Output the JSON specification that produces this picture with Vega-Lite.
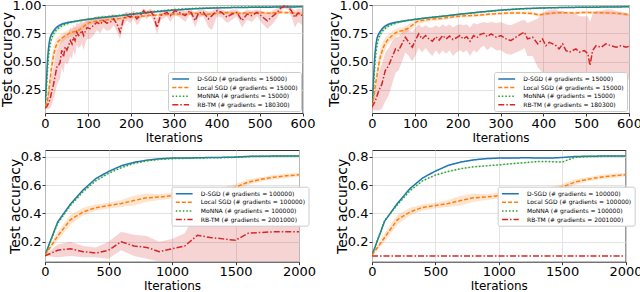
{
"$schema": "https://vega.github.io/schema/vega-lite/v6.json",
"padding": {"left": 0, "top": -2, "right": 0, "bottom": 0},
"background": "white",
"config": {
  "font": "DejaVu Sans",
  "view": {"stroke": "#333333", "strokeWidth": 1},
  "axis": {"domain": false, "grid": true, "gridColor": "#dcdcdc", "gridWidth": 0.8, "tickColor": "#333333", "tickSize": 3, "labelFont": "DejaVu Sans", "labelFontSize": 13, "labelColor": "black", "titleFont": "DejaVu Sans", "titleFontSize": 13, "titleFontWeight": "normal", "titleColor": "black", "labelPadding": 1, "labelFlush": false, "labelOverlap": false, "labelBound": false},
  "axisY": {"titlePadding": -2.5, "titleFontSize": 14},
  "axisX": {"titlePadding": 2, "titleFontSize": 12},
  "legend": {"symbolType": "M-2.8,0H2.8", "symbolSize": 36, "symbolOffset": 5.7, "labelOffset": 12.6, "labelFontSize": 6, "labelFont": "DejaVu Sans", "labelColor": "black", "rowPadding": 1.6, "padding": 3, "strokeColor": "#cccccc", "fillColor": "white", "cornerRadius": 2, "symbolStrokeWidth": 1.5, "labelLimit": 300}
},
"datasets": {
"a": [
{"m":"D-SGD","x":0,"y":0.10,"lo":0.09,"hi":0.11},
{"m":"D-SGD","x":2,"y":0.22,"lo":0.19,"hi":0.25},
{"m":"D-SGD","x":4,"y":0.38,"lo":0.34,"hi":0.42},
{"m":"D-SGD","x":6,"y":0.52,"lo":0.48,"hi":0.56},
{"m":"D-SGD","x":8,"y":0.61,"lo":0.58,"hi":0.64},
{"m":"D-SGD","x":10,"y":0.67,"lo":0.64,"hi":0.70},
{"m":"D-SGD","x":12,"y":0.71,"lo":0.69,"hi":0.73},
{"m":"D-SGD","x":15,"y":0.74,"lo":0.72,"hi":0.76},
{"m":"D-SGD","x":20,"y":0.77,"lo":0.755,"hi":0.785},
{"m":"D-SGD","x":25,"y":0.795,"lo":0.78,"hi":0.81},
{"m":"D-SGD","x":30,"y":0.812,"lo":0.80,"hi":0.824},
{"m":"D-SGD","x":40,"y":0.832,"lo":0.822,"hi":0.842},
{"m":"D-SGD","x":50,"y":0.843,"lo":0.835,"hi":0.851},
{"m":"D-SGD","x":60,"y":0.85,"lo":0.843,"hi":0.857},
{"m":"D-SGD","x":80,"y":0.862,"lo":0.856,"hi":0.868},
{"m":"D-SGD","x":100,"y":0.873,"lo":0.868,"hi":0.878},
{"m":"D-SGD","x":125,"y":0.885,"lo":0.88,"hi":0.89},
{"m":"D-SGD","x":150,"y":0.895,"lo":0.89,"hi":0.9},
{"m":"D-SGD","x":175,"y":0.905,"lo":0.9,"hi":0.91},
{"m":"D-SGD","x":200,"y":0.917,"lo":0.912,"hi":0.922},
{"m":"D-SGD","x":250,"y":0.937,"lo":0.932,"hi":0.942},
{"m":"D-SGD","x":300,"y":0.955,"lo":0.951,"hi":0.959},
{"m":"D-SGD","x":350,"y":0.967,"lo":0.963,"hi":0.971},
{"m":"D-SGD","x":400,"y":0.974,"lo":0.971,"hi":0.977},
{"m":"D-SGD","x":450,"y":0.978,"lo":0.975,"hi":0.981},
{"m":"D-SGD","x":500,"y":0.98,"lo":0.977,"hi":0.983},
{"m":"D-SGD","x":550,"y":0.982,"lo":0.979,"hi":0.985},
{"m":"D-SGD","x":600,"y":0.984,"lo":0.981,"hi":0.987},
{"m":"MoNNA","x":0,"y":0.10,"lo":0.09,"hi":0.11},
{"m":"MoNNA","x":2,"y":0.17,"lo":0.14,"hi":0.2},
{"m":"MoNNA","x":4,"y":0.30,"lo":0.26,"hi":0.34},
{"m":"MoNNA","x":6,"y":0.43,"lo":0.39,"hi":0.47},
{"m":"MoNNA","x":8,"y":0.53,"lo":0.49,"hi":0.57},
{"m":"MoNNA","x":10,"y":0.60,"lo":0.56,"hi":0.64},
{"m":"MoNNA","x":12,"y":0.65,"lo":0.62,"hi":0.68},
{"m":"MoNNA","x":15,"y":0.70,"lo":0.67,"hi":0.73},
{"m":"MoNNA","x":20,"y":0.745,"lo":0.72,"hi":0.77},
{"m":"MoNNA","x":25,"y":0.772,"lo":0.75,"hi":0.794},
{"m":"MoNNA","x":30,"y":0.792,"lo":0.775,"hi":0.81},
{"m":"MoNNA","x":40,"y":0.818,"lo":0.805,"hi":0.831},
{"m":"MoNNA","x":50,"y":0.833,"lo":0.822,"hi":0.844},
{"m":"MoNNA","x":60,"y":0.845,"lo":0.836,"hi":0.854},
{"m":"MoNNA","x":80,"y":0.862,"lo":0.855,"hi":0.869},
{"m":"MoNNA","x":100,"y":0.875,"lo":0.869,"hi":0.881},
{"m":"MoNNA","x":125,"y":0.89,"lo":0.884,"hi":0.896},
{"m":"MoNNA","x":150,"y":0.9,"lo":0.894,"hi":0.906},
{"m":"MoNNA","x":175,"y":0.91,"lo":0.905,"hi":0.915},
{"m":"MoNNA","x":200,"y":0.922,"lo":0.917,"hi":0.927},
{"m":"MoNNA","x":250,"y":0.942,"lo":0.937,"hi":0.947},
{"m":"MoNNA","x":300,"y":0.96,"lo":0.956,"hi":0.964},
{"m":"MoNNA","x":350,"y":0.971,"lo":0.967,"hi":0.975},
{"m":"MoNNA","x":400,"y":0.977,"lo":0.974,"hi":0.98},
{"m":"MoNNA","x":450,"y":0.981,"lo":0.978,"hi":0.984},
{"m":"MoNNA","x":500,"y":0.984,"lo":0.981,"hi":0.987},
{"m":"MoNNA","x":550,"y":0.986,"lo":0.983,"hi":0.989},
{"m":"MoNNA","x":600,"y":0.988,"lo":0.985,"hi":0.991},
{"m":"Local SGD","x":0,"y":0.10,"lo":0.09,"hi":0.11},
{"m":"Local SGD","x":5,"y":0.14,"lo":0.11,"hi":0.18},
{"m":"Local SGD","x":10,"y":0.28,"lo":0.22,"hi":0.34},
{"m":"Local SGD","x":15,"y":0.44,"lo":0.37,"hi":0.51},
{"m":"Local SGD","x":20,"y":0.56,"lo":0.49,"hi":0.63},
{"m":"Local SGD","x":25,"y":0.63,"lo":0.57,"hi":0.69},
{"m":"Local SGD","x":30,"y":0.675,"lo":0.62,"hi":0.72},
{"m":"Local SGD","x":40,"y":0.71,"lo":0.67,"hi":0.75},
{"m":"Local SGD","x":50,"y":0.735,"lo":0.7,"hi":0.77},
{"m":"Local SGD","x":60,"y":0.755,"lo":0.72,"hi":0.79},
{"m":"Local SGD","x":70,"y":0.765,"lo":0.735,"hi":0.8},
{"m":"Local SGD","x":80,"y":0.78,"lo":0.75,"hi":0.81},
{"m":"Local SGD","x":90,"y":0.81,"lo":0.78,"hi":0.84},
{"m":"Local SGD","x":100,"y":0.84,"lo":0.815,"hi":0.86},
{"m":"Local SGD","x":110,"y":0.85,"lo":0.83,"hi":0.87},
{"m":"Local SGD","x":125,"y":0.86,"lo":0.843,"hi":0.877},
{"m":"Local SGD","x":150,"y":0.872,"lo":0.857,"hi":0.887},
{"m":"Local SGD","x":175,"y":0.882,"lo":0.868,"hi":0.896},
{"m":"Local SGD","x":200,"y":0.895,"lo":0.882,"hi":0.908},
{"m":"Local SGD","x":225,"y":0.9,"lo":0.888,"hi":0.912},
{"m":"Local SGD","x":250,"y":0.91,"lo":0.898,"hi":0.922},
{"m":"Local SGD","x":275,"y":0.915,"lo":0.903,"hi":0.927},
{"m":"Local SGD","x":300,"y":0.92,"lo":0.908,"hi":0.932},
{"m":"Local SGD","x":325,"y":0.918,"lo":0.906,"hi":0.93},
{"m":"Local SGD","x":350,"y":0.928,"lo":0.916,"hi":0.94},
{"m":"Local SGD","x":375,"y":0.915,"lo":0.9,"hi":0.93},
{"m":"Local SGD","x":400,"y":0.928,"lo":0.916,"hi":0.94},
{"m":"Local SGD","x":425,"y":0.933,"lo":0.922,"hi":0.944},
{"m":"Local SGD","x":450,"y":0.925,"lo":0.913,"hi":0.937},
{"m":"Local SGD","x":475,"y":0.93,"lo":0.919,"hi":0.941},
{"m":"Local SGD","x":500,"y":0.933,"lo":0.922,"hi":0.944},
{"m":"Local SGD","x":525,"y":0.928,"lo":0.917,"hi":0.939},
{"m":"Local SGD","x":550,"y":0.935,"lo":0.924,"hi":0.946},
{"m":"Local SGD","x":575,"y":0.93,"lo":0.919,"hi":0.941},
{"m":"Local SGD","x":600,"y":0.92,"lo":0.905,"hi":0.935},
{"m":"RB-TM","x":0,"y":0.09,"lo":0.08,"hi":0.1},
{"m":"RB-TM","x":4,"y":0.10,"lo":0.08,"hi":0.14},
{"m":"RB-TM","x":8,"y":0.13,"lo":0.08,"hi":0.22},
{"m":"RB-TM","x":12,"y":0.17,"lo":0.09,"hi":0.3},
{"m":"RB-TM","x":16,"y":0.24,"lo":0.12,"hi":0.38},
{"m":"RB-TM","x":20,"y":0.30,"lo":0.17,"hi":0.45},
{"m":"RB-TM","x":24,"y":0.38,"lo":0.22,"hi":0.55},
{"m":"RB-TM","x":28,"y":0.46,"lo":0.3,"hi":0.6},
{"m":"RB-TM","x":32,"y":0.47,"lo":0.33,"hi":0.63},
{"m":"RB-TM","x":35,"y":0.49,"lo":0.35,"hi":0.65},
{"m":"RB-TM","x":39,"y":0.60,"lo":0.45,"hi":0.72},
{"m":"RB-TM","x":43,"y":0.54,"lo":0.4,"hi":0.7},
{"m":"RB-TM","x":47,"y":0.63,"lo":0.5,"hi":0.75},
{"m":"RB-TM","x":51,"y":0.60,"lo":0.47,"hi":0.74},
{"m":"RB-TM","x":55,"y":0.64,"lo":0.5,"hi":0.76},
{"m":"RB-TM","x":59,"y":0.685,"lo":0.55,"hi":0.8},
{"m":"RB-TM","x":63,"y":0.655,"lo":0.52,"hi":0.78},
{"m":"RB-TM","x":66,"y":0.715,"lo":0.6,"hi":0.82},
{"m":"RB-TM","x":70,"y":0.685,"lo":0.55,"hi":0.8},
{"m":"RB-TM","x":74,"y":0.76,"lo":0.65,"hi":0.85},
{"m":"RB-TM","x":78,"y":0.73,"lo":0.62,"hi":0.83},
{"m":"RB-TM","x":82,"y":0.745,"lo":0.63,"hi":0.85},
{"m":"RB-TM","x":86,"y":0.775,"lo":0.66,"hi":0.87},
{"m":"RB-TM","x":90,"y":0.73,"lo":0.6,"hi":0.84},
{"m":"RB-TM","x":94,"y":0.77,"lo":0.66,"hi":0.86},
{"m":"RB-TM","x":98,"y":0.80,"lo":0.7,"hi":0.88},
{"m":"RB-TM","x":105,"y":0.79,"lo":0.7,"hi":0.87},
{"m":"RB-TM","x":113,"y":0.82,"lo":0.73,"hi":0.89},
{"m":"RB-TM","x":121,"y":0.847,"lo":0.78,"hi":0.9},
{"m":"RB-TM","x":129,"y":0.83,"lo":0.75,"hi":0.9},
{"m":"RB-TM","x":136,"y":0.862,"lo":0.8,"hi":0.91},
{"m":"RB-TM","x":144,"y":0.84,"lo":0.77,"hi":0.9},
{"m":"RB-TM","x":152,"y":0.847,"lo":0.78,"hi":0.91},
{"m":"RB-TM","x":160,"y":0.877,"lo":0.82,"hi":0.92},
{"m":"RB-TM","x":168,"y":0.83,"lo":0.76,"hi":0.9},
{"m":"RB-TM","x":175,"y":0.76,"lo":0.7,"hi":0.87},
{"m":"RB-TM","x":183,"y":0.877,"lo":0.82,"hi":0.93},
{"m":"RB-TM","x":191,"y":0.906,"lo":0.86,"hi":0.94},
{"m":"RB-TM","x":199,"y":0.892,"lo":0.84,"hi":0.93},
{"m":"RB-TM","x":206,"y":0.92,"lo":0.88,"hi":0.95},
{"m":"RB-TM","x":214,"y":0.877,"lo":0.82,"hi":0.93},
{"m":"RB-TM","x":222,"y":0.906,"lo":0.86,"hi":0.94},
{"m":"RB-TM","x":230,"y":0.95,"lo":0.92,"hi":0.97},
{"m":"RB-TM","x":237,"y":0.92,"lo":0.87,"hi":0.95},
{"m":"RB-TM","x":245,"y":0.95,"lo":0.92,"hi":0.97},
{"m":"RB-TM","x":253,"y":0.906,"lo":0.85,"hi":0.95},
{"m":"RB-TM","x":261,"y":0.80,"lo":0.74,"hi":0.88},
{"m":"RB-TM","x":269,"y":0.906,"lo":0.86,"hi":0.95},
{"m":"RB-TM","x":276,"y":0.92,"lo":0.88,"hi":0.95},
{"m":"RB-TM","x":284,"y":0.935,"lo":0.9,"hi":0.96},
{"m":"RB-TM","x":292,"y":0.906,"lo":0.85,"hi":0.95},
{"m":"RB-TM","x":303,"y":0.95,"lo":0.91,"hi":0.97},
{"m":"RB-TM","x":315,"y":0.93,"lo":0.89,"hi":0.96},
{"m":"RB-TM","x":327,"y":0.906,"lo":0.85,"hi":0.95},
{"m":"RB-TM","x":338,"y":0.95,"lo":0.92,"hi":0.97},
{"m":"RB-TM","x":350,"y":0.862,"lo":0.8,"hi":0.93},
{"m":"RB-TM","x":358,"y":0.93,"lo":0.89,"hi":0.96},
{"m":"RB-TM","x":369,"y":0.935,"lo":0.9,"hi":0.96},
{"m":"RB-TM","x":381,"y":0.877,"lo":0.8,"hi":0.94},
{"m":"RB-TM","x":389,"y":0.906,"lo":0.78,"hi":0.95},
{"m":"RB-TM","x":401,"y":0.95,"lo":0.9,"hi":0.97},
{"m":"RB-TM","x":412,"y":0.935,"lo":0.89,"hi":0.96},
{"m":"RB-TM","x":424,"y":0.892,"lo":0.84,"hi":0.94},
{"m":"RB-TM","x":436,"y":0.92,"lo":0.87,"hi":0.96},
{"m":"RB-TM","x":447,"y":0.935,"lo":0.9,"hi":0.96},
{"m":"RB-TM","x":459,"y":0.862,"lo":0.8,"hi":0.93},
{"m":"RB-TM","x":471,"y":0.92,"lo":0.87,"hi":0.96},
{"m":"RB-TM","x":482,"y":0.906,"lo":0.85,"hi":0.95},
{"m":"RB-TM","x":494,"y":0.935,"lo":0.9,"hi":0.96},
{"m":"RB-TM","x":505,"y":0.9,"lo":0.84,"hi":0.95},
{"m":"RB-TM","x":518,"y":0.86,"lo":0.79,"hi":0.92},
{"m":"RB-TM","x":530,"y":0.9,"lo":0.83,"hi":0.95},
{"m":"RB-TM","x":540,"y":0.93,"lo":0.88,"hi":0.97},
{"m":"RB-TM","x":550,"y":0.975,"lo":0.95,"hi":0.99},
{"m":"RB-TM","x":558,"y":0.99,"lo":0.97,"hi":1.0},
{"m":"RB-TM","x":566,"y":0.985,"lo":0.96,"hi":1.0},
{"m":"RB-TM","x":574,"y":0.95,"lo":0.9,"hi":0.98},
{"m":"RB-TM","x":582,"y":0.89,"lo":0.8,"hi":0.95},
{"m":"RB-TM","x":590,"y":0.93,"lo":0.85,"hi":0.97},
{"m":"RB-TM","x":600,"y":0.905,"lo":0.82,"hi":0.96}
],
"b": [
{"m":"D-SGD","x":0,"y":0.10,"lo":0.09,"hi":0.11},
{"m":"D-SGD","x":2,"y":0.22,"lo":0.19,"hi":0.25},
{"m":"D-SGD","x":4,"y":0.38,"lo":0.34,"hi":0.42},
{"m":"D-SGD","x":6,"y":0.52,"lo":0.48,"hi":0.56},
{"m":"D-SGD","x":8,"y":0.61,"lo":0.58,"hi":0.64},
{"m":"D-SGD","x":10,"y":0.67,"lo":0.64,"hi":0.70},
{"m":"D-SGD","x":12,"y":0.71,"lo":0.69,"hi":0.73},
{"m":"D-SGD","x":15,"y":0.74,"lo":0.72,"hi":0.76},
{"m":"D-SGD","x":20,"y":0.77,"lo":0.755,"hi":0.785},
{"m":"D-SGD","x":25,"y":0.795,"lo":0.78,"hi":0.81},
{"m":"D-SGD","x":30,"y":0.812,"lo":0.80,"hi":0.824},
{"m":"D-SGD","x":40,"y":0.832,"lo":0.822,"hi":0.842},
{"m":"D-SGD","x":50,"y":0.843,"lo":0.835,"hi":0.851},
{"m":"D-SGD","x":60,"y":0.85,"lo":0.843,"hi":0.857},
{"m":"D-SGD","x":80,"y":0.862,"lo":0.856,"hi":0.868},
{"m":"D-SGD","x":100,"y":0.873,"lo":0.868,"hi":0.878},
{"m":"D-SGD","x":125,"y":0.885,"lo":0.88,"hi":0.89},
{"m":"D-SGD","x":150,"y":0.895,"lo":0.89,"hi":0.9},
{"m":"D-SGD","x":175,"y":0.905,"lo":0.9,"hi":0.91},
{"m":"D-SGD","x":200,"y":0.917,"lo":0.912,"hi":0.922},
{"m":"D-SGD","x":250,"y":0.937,"lo":0.932,"hi":0.942},
{"m":"D-SGD","x":300,"y":0.955,"lo":0.951,"hi":0.959},
{"m":"D-SGD","x":350,"y":0.967,"lo":0.963,"hi":0.971},
{"m":"D-SGD","x":400,"y":0.974,"lo":0.971,"hi":0.977},
{"m":"D-SGD","x":450,"y":0.978,"lo":0.975,"hi":0.981},
{"m":"D-SGD","x":500,"y":0.98,"lo":0.977,"hi":0.983},
{"m":"D-SGD","x":550,"y":0.982,"lo":0.979,"hi":0.985},
{"m":"D-SGD","x":600,"y":0.984,"lo":0.981,"hi":0.987},
{"m":"MoNNA","x":0,"y":0.10,"lo":0.09,"hi":0.11},
{"m":"MoNNA","x":2,"y":0.17,"lo":0.14,"hi":0.2},
{"m":"MoNNA","x":4,"y":0.30,"lo":0.26,"hi":0.34},
{"m":"MoNNA","x":6,"y":0.43,"lo":0.39,"hi":0.47},
{"m":"MoNNA","x":8,"y":0.53,"lo":0.49,"hi":0.57},
{"m":"MoNNA","x":10,"y":0.60,"lo":0.56,"hi":0.64},
{"m":"MoNNA","x":12,"y":0.65,"lo":0.62,"hi":0.68},
{"m":"MoNNA","x":15,"y":0.70,"lo":0.67,"hi":0.73},
{"m":"MoNNA","x":20,"y":0.745,"lo":0.72,"hi":0.77},
{"m":"MoNNA","x":25,"y":0.772,"lo":0.75,"hi":0.794},
{"m":"MoNNA","x":30,"y":0.792,"lo":0.775,"hi":0.81},
{"m":"MoNNA","x":40,"y":0.818,"lo":0.805,"hi":0.831},
{"m":"MoNNA","x":50,"y":0.833,"lo":0.822,"hi":0.844},
{"m":"MoNNA","x":60,"y":0.845,"lo":0.836,"hi":0.854},
{"m":"MoNNA","x":80,"y":0.862,"lo":0.855,"hi":0.869},
{"m":"MoNNA","x":100,"y":0.872,"lo":0.866,"hi":0.878},
{"m":"MoNNA","x":125,"y":0.885,"lo":0.879,"hi":0.891},
{"m":"MoNNA","x":150,"y":0.895,"lo":0.889,"hi":0.901},
{"m":"MoNNA","x":175,"y":0.905,"lo":0.9,"hi":0.91},
{"m":"MoNNA","x":200,"y":0.915,"lo":0.91,"hi":0.92},
{"m":"MoNNA","x":250,"y":0.935,"lo":0.93,"hi":0.94},
{"m":"MoNNA","x":300,"y":0.953,"lo":0.949,"hi":0.957},
{"m":"MoNNA","x":350,"y":0.966,"lo":0.962,"hi":0.97},
{"m":"MoNNA","x":400,"y":0.974,"lo":0.971,"hi":0.977},
{"m":"MoNNA","x":450,"y":0.979,"lo":0.976,"hi":0.982},
{"m":"MoNNA","x":500,"y":0.982,"lo":0.979,"hi":0.985},
{"m":"MoNNA","x":550,"y":0.985,"lo":0.982,"hi":0.988},
{"m":"MoNNA","x":600,"y":0.987,"lo":0.984,"hi":0.99},
{"m":"Local SGD","x":0,"y":0.10,"lo":0.09,"hi":0.11},
{"m":"Local SGD","x":4,"y":0.18,"lo":0.13,"hi":0.23},
{"m":"Local SGD","x":8,"y":0.30,"lo":0.23,"hi":0.37},
{"m":"Local SGD","x":12,"y":0.38,"lo":0.31,"hi":0.45},
{"m":"Local SGD","x":16,"y":0.48,"lo":0.41,"hi":0.55},
{"m":"Local SGD","x":20,"y":0.55,"lo":0.48,"hi":0.62},
{"m":"Local SGD","x":27,"y":0.63,"lo":0.57,"hi":0.69},
{"m":"Local SGD","x":35,"y":0.685,"lo":0.64,"hi":0.73},
{"m":"Local SGD","x":43,"y":0.715,"lo":0.675,"hi":0.755},
{"m":"Local SGD","x":50,"y":0.74,"lo":0.7,"hi":0.775},
{"m":"Local SGD","x":58,"y":0.76,"lo":0.725,"hi":0.79},
{"m":"Local SGD","x":66,"y":0.77,"lo":0.74,"hi":0.8},
{"m":"Local SGD","x":74,"y":0.775,"lo":0.745,"hi":0.805},
{"m":"Local SGD","x":82,"y":0.79,"lo":0.76,"hi":0.82},
{"m":"Local SGD","x":90,"y":0.81,"lo":0.78,"hi":0.84},
{"m":"Local SGD","x":97,"y":0.83,"lo":0.8,"hi":0.855},
{"m":"Local SGD","x":105,"y":0.855,"lo":0.83,"hi":0.875},
{"m":"Local SGD","x":120,"y":0.865,"lo":0.845,"hi":0.882},
{"m":"Local SGD","x":140,"y":0.875,"lo":0.858,"hi":0.89},
{"m":"Local SGD","x":160,"y":0.88,"lo":0.865,"hi":0.895},
{"m":"Local SGD","x":180,"y":0.89,"lo":0.876,"hi":0.904},
{"m":"Local SGD","x":200,"y":0.9,"lo":0.887,"hi":0.913},
{"m":"Local SGD","x":225,"y":0.905,"lo":0.892,"hi":0.918},
{"m":"Local SGD","x":250,"y":0.91,"lo":0.898,"hi":0.922},
{"m":"Local SGD","x":275,"y":0.92,"lo":0.908,"hi":0.932},
{"m":"Local SGD","x":300,"y":0.925,"lo":0.913,"hi":0.937},
{"m":"Local SGD","x":325,"y":0.93,"lo":0.918,"hi":0.942},
{"m":"Local SGD","x":350,"y":0.93,"lo":0.918,"hi":0.942},
{"m":"Local SGD","x":375,"y":0.925,"lo":0.912,"hi":0.938},
{"m":"Local SGD","x":390,"y":0.91,"lo":0.895,"hi":0.925},
{"m":"Local SGD","x":400,"y":0.92,"lo":0.907,"hi":0.933},
{"m":"Local SGD","x":425,"y":0.93,"lo":0.918,"hi":0.942},
{"m":"Local SGD","x":450,"y":0.932,"lo":0.92,"hi":0.944},
{"m":"Local SGD","x":475,"y":0.93,"lo":0.918,"hi":0.942},
{"m":"Local SGD","x":500,"y":0.935,"lo":0.923,"hi":0.947},
{"m":"Local SGD","x":525,"y":0.932,"lo":0.92,"hi":0.944},
{"m":"Local SGD","x":550,"y":0.93,"lo":0.918,"hi":0.942},
{"m":"Local SGD","x":575,"y":0.925,"lo":0.913,"hi":0.937},
{"m":"Local SGD","x":600,"y":0.915,"lo":0.9,"hi":0.93},
{"m":"RB-TM","x":0,"y":0.096,"lo":0.07,"hi":0.12},
{"m":"RB-TM","x":8,"y":0.155,"lo":0.07,"hi":0.25},
{"m":"RB-TM","x":16,"y":0.243,"lo":0.07,"hi":0.4},
{"m":"RB-TM","x":23,"y":0.30,"lo":0.08,"hi":0.48},
{"m":"RB-TM","x":31,"y":0.42,"lo":0.15,"hi":0.58},
{"m":"RB-TM","x":39,"y":0.465,"lo":0.2,"hi":0.62},
{"m":"RB-TM","x":47,"y":0.54,"lo":0.3,"hi":0.68},
{"m":"RB-TM","x":55,"y":0.612,"lo":0.4,"hi":0.72},
{"m":"RB-TM","x":62,"y":0.597,"lo":0.42,"hi":0.72},
{"m":"RB-TM","x":70,"y":0.656,"lo":0.5,"hi":0.76},
{"m":"RB-TM","x":78,"y":0.715,"lo":0.58,"hi":0.8},
{"m":"RB-TM","x":86,"y":0.67,"lo":0.55,"hi":0.78},
{"m":"RB-TM","x":94,"y":0.627,"lo":0.5,"hi":0.76},
{"m":"RB-TM","x":101,"y":0.685,"lo":0.55,"hi":0.8},
{"m":"RB-TM","x":109,"y":0.745,"lo":0.62,"hi":0.83},
{"m":"RB-TM","x":117,"y":0.70,"lo":0.58,"hi":0.8},
{"m":"RB-TM","x":125,"y":0.73,"lo":0.62,"hi":0.82},
{"m":"RB-TM","x":133,"y":0.70,"lo":0.58,"hi":0.8},
{"m":"RB-TM","x":141,"y":0.68,"lo":0.55,"hi":0.8},
{"m":"RB-TM","x":149,"y":0.72,"lo":0.6,"hi":0.82},
{"m":"RB-TM","x":157,"y":0.69,"lo":0.56,"hi":0.8},
{"m":"RB-TM","x":165,"y":0.73,"lo":0.6,"hi":0.83},
{"m":"RB-TM","x":173,"y":0.70,"lo":0.57,"hi":0.81},
{"m":"RB-TM","x":181,"y":0.725,"lo":0.6,"hi":0.83},
{"m":"RB-TM","x":189,"y":0.695,"lo":0.55,"hi":0.8},
{"m":"RB-TM","x":197,"y":0.71,"lo":0.58,"hi":0.82},
{"m":"RB-TM","x":205,"y":0.73,"lo":0.6,"hi":0.83},
{"m":"RB-TM","x":213,"y":0.70,"lo":0.58,"hi":0.82},
{"m":"RB-TM","x":221,"y":0.72,"lo":0.6,"hi":0.83},
{"m":"RB-TM","x":229,"y":0.68,"lo":0.55,"hi":0.8},
{"m":"RB-TM","x":237,"y":0.73,"lo":0.6,"hi":0.84},
{"m":"RB-TM","x":245,"y":0.71,"lo":0.58,"hi":0.83},
{"m":"RB-TM","x":253,"y":0.74,"lo":0.62,"hi":0.84},
{"m":"RB-TM","x":261,"y":0.75,"lo":0.64,"hi":0.85},
{"m":"RB-TM","x":269,"y":0.72,"lo":0.6,"hi":0.84},
{"m":"RB-TM","x":278,"y":0.745,"lo":0.63,"hi":0.85},
{"m":"RB-TM","x":290,"y":0.715,"lo":0.6,"hi":0.84},
{"m":"RB-TM","x":301,"y":0.73,"lo":0.6,"hi":0.85},
{"m":"RB-TM","x":313,"y":0.70,"lo":0.57,"hi":0.83},
{"m":"RB-TM","x":324,"y":0.685,"lo":0.56,"hi":0.82},
{"m":"RB-TM","x":336,"y":0.715,"lo":0.58,"hi":0.84},
{"m":"RB-TM","x":348,"y":0.745,"lo":0.6,"hi":0.86},
{"m":"RB-TM","x":356,"y":0.76,"lo":0.62,"hi":0.87},
{"m":"RB-TM","x":363,"y":0.70,"lo":0.55,"hi":0.84},
{"m":"RB-TM","x":375,"y":0.715,"lo":0.55,"hi":0.86},
{"m":"RB-TM","x":387,"y":0.656,"lo":0.45,"hi":0.88},
{"m":"RB-TM","x":398,"y":0.70,"lo":0.4,"hi":0.92},
{"m":"RB-TM","x":406,"y":0.64,"lo":0.3,"hi":0.95},
{"m":"RB-TM","x":414,"y":0.67,"lo":0.25,"hi":0.96},
{"m":"RB-TM","x":422,"y":0.656,"lo":0.15,"hi":0.96},
{"m":"RB-TM","x":430,"y":0.64,"lo":0.08,"hi":0.96},
{"m":"RB-TM","x":437,"y":0.612,"lo":0.06,"hi":0.95},
{"m":"RB-TM","x":445,"y":0.656,"lo":0.06,"hi":0.95},
{"m":"RB-TM","x":453,"y":0.597,"lo":0.06,"hi":0.93},
{"m":"RB-TM","x":461,"y":0.583,"lo":0.06,"hi":0.92},
{"m":"RB-TM","x":468,"y":0.597,"lo":0.06,"hi":0.93},
{"m":"RB-TM","x":476,"y":0.612,"lo":0.06,"hi":0.92},
{"m":"RB-TM","x":484,"y":0.583,"lo":0.06,"hi":0.9},
{"m":"RB-TM","x":496,"y":0.597,"lo":0.06,"hi":0.9},
{"m":"RB-TM","x":504,"y":0.57,"lo":0.06,"hi":0.9},
{"m":"RB-TM","x":509,"y":0.465,"lo":0.06,"hi":0.85},
{"m":"RB-TM","x":515,"y":0.597,"lo":0.06,"hi":0.92},
{"m":"RB-TM","x":523,"y":0.64,"lo":0.08,"hi":0.95},
{"m":"RB-TM","x":535,"y":0.627,"lo":0.1,"hi":0.95},
{"m":"RB-TM","x":546,"y":0.656,"lo":0.12,"hi":0.96},
{"m":"RB-TM","x":558,"y":0.64,"lo":0.15,"hi":0.96},
{"m":"RB-TM","x":570,"y":0.627,"lo":0.2,"hi":0.95},
{"m":"RB-TM","x":581,"y":0.64,"lo":0.25,"hi":0.94},
{"m":"RB-TM","x":593,"y":0.627,"lo":0.3,"hi":0.93},
{"m":"RB-TM","x":600,"y":0.635,"lo":0.35,"hi":0.92}
],
"c": [
{"m":"D-SGD","x":0,"y":0.105,"lo":0.101,"hi":0.109},
{"m":"D-SGD","x":100,"y":0.34,"lo":0.335,"hi":0.345},
{"m":"D-SGD","x":200,"y":0.465,"lo":0.46,"hi":0.47},
{"m":"D-SGD","x":300,"y":0.565,"lo":0.56,"hi":0.57},
{"m":"D-SGD","x":400,"y":0.645,"lo":0.64,"hi":0.65},
{"m":"D-SGD","x":500,"y":0.695,"lo":0.69,"hi":0.7},
{"m":"D-SGD","x":600,"y":0.735,"lo":0.731,"hi":0.739},
{"m":"D-SGD","x":700,"y":0.76,"lo":0.756,"hi":0.764},
{"m":"D-SGD","x":800,"y":0.775,"lo":0.771,"hi":0.779},
{"m":"D-SGD","x":900,"y":0.785,"lo":0.781,"hi":0.789},
{"m":"D-SGD","x":1000,"y":0.79,"lo":0.786,"hi":0.794},
{"m":"D-SGD","x":1100,"y":0.79,"lo":0.786,"hi":0.794},
{"m":"D-SGD","x":1200,"y":0.792,"lo":0.788,"hi":0.796},
{"m":"D-SGD","x":1300,"y":0.794,"lo":0.79,"hi":0.798},
{"m":"D-SGD","x":1400,"y":0.795,"lo":0.791,"hi":0.799},
{"m":"D-SGD","x":1500,"y":0.797,"lo":0.793,"hi":0.801},
{"m":"D-SGD","x":1600,"y":0.802,"lo":0.798,"hi":0.806},
{"m":"D-SGD","x":1700,"y":0.803,"lo":0.799,"hi":0.807},
{"m":"D-SGD","x":1800,"y":0.804,"lo":0.8,"hi":0.808},
{"m":"D-SGD","x":1900,"y":0.805,"lo":0.801,"hi":0.809},
{"m":"D-SGD","x":2000,"y":0.805,"lo":0.801,"hi":0.809},
{"m":"MoNNA","x":0,"y":0.105,"lo":0.101,"hi":0.109},
{"m":"MoNNA","x":100,"y":0.33,"lo":0.325,"hi":0.335},
{"m":"MoNNA","x":200,"y":0.455,"lo":0.45,"hi":0.46},
{"m":"MoNNA","x":300,"y":0.553,"lo":0.548,"hi":0.558},
{"m":"MoNNA","x":400,"y":0.63,"lo":0.625,"hi":0.635},
{"m":"MoNNA","x":500,"y":0.682,"lo":0.677,"hi":0.687},
{"m":"MoNNA","x":600,"y":0.722,"lo":0.718,"hi":0.726},
{"m":"MoNNA","x":700,"y":0.752,"lo":0.748,"hi":0.756},
{"m":"MoNNA","x":800,"y":0.77,"lo":0.766,"hi":0.774},
{"m":"MoNNA","x":900,"y":0.78,"lo":0.776,"hi":0.784},
{"m":"MoNNA","x":1000,"y":0.786,"lo":0.782,"hi":0.79},
{"m":"MoNNA","x":1100,"y":0.788,"lo":0.784,"hi":0.792},
{"m":"MoNNA","x":1200,"y":0.79,"lo":0.786,"hi":0.794},
{"m":"MoNNA","x":1300,"y":0.792,"lo":0.788,"hi":0.796},
{"m":"MoNNA","x":1400,"y":0.793,"lo":0.789,"hi":0.797},
{"m":"MoNNA","x":1500,"y":0.795,"lo":0.791,"hi":0.799},
{"m":"MoNNA","x":1600,"y":0.8,"lo":0.796,"hi":0.804},
{"m":"MoNNA","x":1700,"y":0.802,"lo":0.798,"hi":0.806},
{"m":"MoNNA","x":1800,"y":0.803,"lo":0.799,"hi":0.807},
{"m":"MoNNA","x":1900,"y":0.804,"lo":0.8,"hi":0.808},
{"m":"MoNNA","x":2000,"y":0.805,"lo":0.801,"hi":0.809},
{"m":"Local SGD","x":0,"y":0.105,"lo":0.1,"hi":0.11},
{"m":"Local SGD","x":100,"y":0.24,"lo":0.21,"hi":0.27},
{"m":"Local SGD","x":200,"y":0.355,"lo":0.32,"hi":0.39},
{"m":"Local SGD","x":300,"y":0.41,"lo":0.385,"hi":0.44},
{"m":"Local SGD","x":400,"y":0.44,"lo":0.42,"hi":0.465},
{"m":"Local SGD","x":500,"y":0.455,"lo":0.435,"hi":0.475},
{"m":"Local SGD","x":600,"y":0.47,"lo":0.445,"hi":0.495},
{"m":"Local SGD","x":700,"y":0.49,"lo":0.455,"hi":0.525},
{"m":"Local SGD","x":800,"y":0.51,"lo":0.48,"hi":0.54},
{"m":"Local SGD","x":900,"y":0.515,"lo":0.495,"hi":0.535},
{"m":"Local SGD","x":1000,"y":0.525,"lo":0.505,"hi":0.545},
{"m":"Local SGD","x":1100,"y":0.53,"lo":0.51,"hi":0.55},
{"m":"Local SGD","x":1200,"y":0.54,"lo":0.52,"hi":0.56},
{"m":"Local SGD","x":1300,"y":0.55,"lo":0.53,"hi":0.57},
{"m":"Local SGD","x":1400,"y":0.565,"lo":0.545,"hi":0.585},
{"m":"Local SGD","x":1500,"y":0.585,"lo":0.565,"hi":0.605},
{"m":"Local SGD","x":1600,"y":0.62,"lo":0.6,"hi":0.64},
{"m":"Local SGD","x":1700,"y":0.64,"lo":0.625,"hi":0.655},
{"m":"Local SGD","x":1800,"y":0.655,"lo":0.64,"hi":0.67},
{"m":"Local SGD","x":1900,"y":0.665,"lo":0.65,"hi":0.68},
{"m":"Local SGD","x":2000,"y":0.672,"lo":0.66,"hi":0.685},
{"m":"RB-TM","x":0,"y":0.1,"lo":0.1,"hi":0.11},
{"m":"RB-TM","x":100,"y":0.14,"lo":0.09,"hi":0.18},
{"m":"RB-TM","x":200,"y":0.15,"lo":0.1,"hi":0.2},
{"m":"RB-TM","x":300,"y":0.13,"lo":0.09,"hi":0.17},
{"m":"RB-TM","x":400,"y":0.12,"lo":0.09,"hi":0.16},
{"m":"RB-TM","x":500,"y":0.14,"lo":0.08,"hi":0.2},
{"m":"RB-TM","x":600,"y":0.2,"lo":0.14,"hi":0.27},
{"m":"RB-TM","x":700,"y":0.17,"lo":0.1,"hi":0.25},
{"m":"RB-TM","x":800,"y":0.16,"lo":0.08,"hi":0.24},
{"m":"RB-TM","x":900,"y":0.13,"lo":0.06,"hi":0.2},
{"m":"RB-TM","x":1000,"y":0.15,"lo":0.06,"hi":0.22},
{"m":"RB-TM","x":1100,"y":0.17,"lo":0.06,"hi":0.26},
{"m":"RB-TM","x":1200,"y":0.245,"lo":0.06,"hi":0.42},
{"m":"RB-TM","x":1300,"y":0.23,"lo":0.06,"hi":0.44},
{"m":"RB-TM","x":1400,"y":0.22,"lo":0.06,"hi":0.46},
{"m":"RB-TM","x":1500,"y":0.21,"lo":0.06,"hi":0.47},
{"m":"RB-TM","x":1600,"y":0.26,"lo":0.06,"hi":0.48},
{"m":"RB-TM","x":1700,"y":0.265,"lo":0.06,"hi":0.48},
{"m":"RB-TM","x":1800,"y":0.27,"lo":0.06,"hi":0.49},
{"m":"RB-TM","x":1900,"y":0.27,"lo":0.06,"hi":0.49},
{"m":"RB-TM","x":2000,"y":0.27,"lo":0.06,"hi":0.49}
],
"d": [
{"m":"D-SGD","x":0,"y":0.105,"lo":0.101,"hi":0.109},
{"m":"D-SGD","x":100,"y":0.345,"lo":0.34,"hi":0.35},
{"m":"D-SGD","x":200,"y":0.47,"lo":0.465,"hi":0.475},
{"m":"D-SGD","x":300,"y":0.575,"lo":0.57,"hi":0.58},
{"m":"D-SGD","x":400,"y":0.65,"lo":0.645,"hi":0.655},
{"m":"D-SGD","x":500,"y":0.698,"lo":0.693,"hi":0.703},
{"m":"D-SGD","x":600,"y":0.738,"lo":0.734,"hi":0.742},
{"m":"D-SGD","x":700,"y":0.762,"lo":0.758,"hi":0.766},
{"m":"D-SGD","x":800,"y":0.777,"lo":0.773,"hi":0.781},
{"m":"D-SGD","x":900,"y":0.786,"lo":0.782,"hi":0.79},
{"m":"D-SGD","x":1000,"y":0.79,"lo":0.786,"hi":0.794},
{"m":"D-SGD","x":1100,"y":0.79,"lo":0.786,"hi":0.794},
{"m":"D-SGD","x":1200,"y":0.792,"lo":0.788,"hi":0.796},
{"m":"D-SGD","x":1300,"y":0.791,"lo":0.787,"hi":0.795},
{"m":"D-SGD","x":1400,"y":0.79,"lo":0.786,"hi":0.794},
{"m":"D-SGD","x":1500,"y":0.794,"lo":0.79,"hi":0.798},
{"m":"D-SGD","x":1600,"y":0.801,"lo":0.797,"hi":0.805},
{"m":"D-SGD","x":1700,"y":0.803,"lo":0.799,"hi":0.807},
{"m":"D-SGD","x":1800,"y":0.804,"lo":0.8,"hi":0.808},
{"m":"D-SGD","x":1900,"y":0.805,"lo":0.801,"hi":0.809},
{"m":"D-SGD","x":2000,"y":0.805,"lo":0.801,"hi":0.809},
{"m":"MoNNA","x":0,"y":0.105,"lo":0.101,"hi":0.109},
{"m":"MoNNA","x":100,"y":0.35,"lo":0.345,"hi":0.355},
{"m":"MoNNA","x":200,"y":0.46,"lo":0.455,"hi":0.465},
{"m":"MoNNA","x":300,"y":0.56,"lo":0.555,"hi":0.565},
{"m":"MoNNA","x":400,"y":0.63,"lo":0.625,"hi":0.635},
{"m":"MoNNA","x":500,"y":0.67,"lo":0.665,"hi":0.675},
{"m":"MoNNA","x":600,"y":0.695,"lo":0.69,"hi":0.7},
{"m":"MoNNA","x":700,"y":0.715,"lo":0.71,"hi":0.72},
{"m":"MoNNA","x":800,"y":0.728,"lo":0.723,"hi":0.733},
{"m":"MoNNA","x":900,"y":0.735,"lo":0.73,"hi":0.74},
{"m":"MoNNA","x":1000,"y":0.742,"lo":0.737,"hi":0.747},
{"m":"MoNNA","x":1100,"y":0.75,"lo":0.745,"hi":0.755},
{"m":"MoNNA","x":1200,"y":0.757,"lo":0.752,"hi":0.762},
{"m":"MoNNA","x":1300,"y":0.765,"lo":0.76,"hi":0.77},
{"m":"MoNNA","x":1400,"y":0.765,"lo":0.76,"hi":0.77},
{"m":"MoNNA","x":1500,"y":0.762,"lo":0.757,"hi":0.767},
{"m":"MoNNA","x":1600,"y":0.795,"lo":0.79,"hi":0.8},
{"m":"MoNNA","x":1700,"y":0.8,"lo":0.796,"hi":0.804},
{"m":"MoNNA","x":1800,"y":0.802,"lo":0.798,"hi":0.806},
{"m":"MoNNA","x":1900,"y":0.803,"lo":0.799,"hi":0.807},
{"m":"MoNNA","x":2000,"y":0.805,"lo":0.801,"hi":0.809},
{"m":"Local SGD","x":0,"y":0.105,"lo":0.1,"hi":0.11},
{"m":"Local SGD","x":100,"y":0.23,"lo":0.2,"hi":0.26},
{"m":"Local SGD","x":200,"y":0.355,"lo":0.32,"hi":0.39},
{"m":"Local SGD","x":300,"y":0.41,"lo":0.385,"hi":0.44},
{"m":"Local SGD","x":400,"y":0.442,"lo":0.42,"hi":0.465},
{"m":"Local SGD","x":500,"y":0.455,"lo":0.435,"hi":0.475},
{"m":"Local SGD","x":600,"y":0.47,"lo":0.445,"hi":0.495},
{"m":"Local SGD","x":700,"y":0.49,"lo":0.455,"hi":0.525},
{"m":"Local SGD","x":800,"y":0.51,"lo":0.48,"hi":0.54},
{"m":"Local SGD","x":900,"y":0.515,"lo":0.495,"hi":0.535},
{"m":"Local SGD","x":1000,"y":0.525,"lo":0.505,"hi":0.545},
{"m":"Local SGD","x":1100,"y":0.53,"lo":0.51,"hi":0.55},
{"m":"Local SGD","x":1200,"y":0.54,"lo":0.52,"hi":0.56},
{"m":"Local SGD","x":1300,"y":0.55,"lo":0.53,"hi":0.57},
{"m":"Local SGD","x":1400,"y":0.565,"lo":0.545,"hi":0.585},
{"m":"Local SGD","x":1500,"y":0.585,"lo":0.565,"hi":0.605},
{"m":"Local SGD","x":1600,"y":0.62,"lo":0.6,"hi":0.64},
{"m":"Local SGD","x":1700,"y":0.64,"lo":0.625,"hi":0.655},
{"m":"Local SGD","x":1800,"y":0.655,"lo":0.64,"hi":0.67},
{"m":"Local SGD","x":1900,"y":0.665,"lo":0.65,"hi":0.68},
{"m":"Local SGD","x":2000,"y":0.672,"lo":0.66,"hi":0.685},
{"m":"RB-TM","x":0,"y":0.1,"lo":0.099,"hi":0.101},
{"m":"RB-TM","x":500,"y":0.1,"lo":0.099,"hi":0.101},
{"m":"RB-TM","x":1000,"y":0.1,"lo":0.099,"hi":0.101},
{"m":"RB-TM","x":1500,"y":0.1,"lo":0.099,"hi":0.101},
{"m":"RB-TM","x":2000,"y":0.1,"lo":0.099,"hi":0.101}
]
},
"vconcat": [
{
"hconcat": [
{
"width": 257.5, "height": 108,
"data": {"name": "a"},
"layer": [
{"mark": {"type": "area", "opacity": 0.2, "clip": true},
 "encoding": {
  "x": {"field": "x", "type": "quantitative", "scale": {"domain": [0, 600], "nice": false}, "axis": {"values": [0,100,200,300,400,500,600], "format": "d", "title": "Iterations"}},
  "y": {"field": "lo", "type": "quantitative", "scale": {"domain": [0.045, 1.0], "nice": false, "zero": false}, "axis": {"values": [0.25,0.5,0.75,1.0], "format": ".2f", "title": "Test accuracy"}},
  "y2": {"field": "hi"},
  "fill": {"field": "m", "type": "nominal", "scale": {"range": ["#1f77b4","#ff7f0e","#2ca02c","#d62728"]}, "legend": null}
 }},
{"mark": {"type": "line", "strokeWidth": 1.5, "clip": true},
 "encoding": {
  "x": {"field": "x", "type": "quantitative", "axis": {"values": [0,100,200,300,400,500,600], "format": "d", "title": "Iterations"}},
  "y": {"field": "y", "type": "quantitative", "axis": {"values": [0.25,0.5,0.75,1.0], "format": ".2f", "title": "Test accuracy"}},
  "color": {"field": "m", "type": "nominal", "scale": {"domain": ["D-SGD","Local SGD","MoNNA","RB-TM"], "range": ["#1f77b4","#ff7f0e","#2ca02c","#d62728"]}, "legend": {"title": null, "orient": "bottom-right", "offset": 2, "labelExpr": "datum.label + (datum.label == 'RB-TM' ? ' (# gradients = 180300)' : ' (# gradients = 15000)')"}},
  "strokeDash": {"field": "m", "type": "nominal", "scale": {"domain": ["D-SGD","Local SGD","MoNNA","RB-TM"], "range": [[1,0],[4,2],[1.5,2],[6,2,1.5,2]]}, "legend": {"title": null, "orient": "bottom-right", "offset": 2, "labelExpr": "datum.label + (datum.label == 'RB-TM' ? ' (# gradients = 180300)' : ' (# gradients = 15000)')"}}
 }}
]
},
{
"width": 257, "height": 108,
"data": {"name": "b"},
"layer": [
{"mark": {"type": "area", "opacity": 0.2, "clip": true},
 "encoding": {
  "x": {"field": "x", "type": "quantitative", "scale": {"domain": [0, 600], "nice": false}, "axis": {"values": [0,100,200,300,400,500,600], "format": "d", "title": "Iterations"}},
  "y": {"field": "lo", "type": "quantitative", "scale": {"domain": [0.045, 1.0], "nice": false, "zero": false}, "axis": {"values": [0.25,0.5,0.75,1.0], "format": ".2f", "title": "Test accuracy"}},
  "y2": {"field": "hi"},
  "fill": {"field": "m", "type": "nominal", "scale": {"range": ["#1f77b4","#ff7f0e","#2ca02c","#d62728"]}, "legend": null}
 }},
{"mark": {"type": "line", "strokeWidth": 1.5, "clip": true},
 "encoding": {
  "x": {"field": "x", "type": "quantitative", "axis": {"values": [0,100,200,300,400,500,600], "format": "d", "title": "Iterations"}},
  "y": {"field": "y", "type": "quantitative", "axis": {"values": [0.25,0.5,0.75,1.0], "format": ".2f", "title": "Test accuracy"}},
  "color": {"field": "m", "type": "nominal", "scale": {"domain": ["D-SGD","Local SGD","MoNNA","RB-TM"], "range": ["#1f77b4","#ff7f0e","#2ca02c","#d62728"]}, "legend": {"title": null, "orient": "bottom-right", "offset": 2, "labelExpr": "datum.label + (datum.label == 'RB-TM' ? ' (# gradients = 180300)' : ' (# gradients = 15000)')"}},
  "strokeDash": {"field": "m", "type": "nominal", "scale": {"domain": ["D-SGD","Local SGD","MoNNA","RB-TM"], "range": [[1,0],[4,2],[1.5,2],[6,2,1.5,2]]}, "legend": {"title": null, "orient": "bottom-right", "offset": 2, "labelExpr": "datum.label + (datum.label == 'RB-TM' ? ' (# gradients = 180300)' : ' (# gradients = 15000)')"}}
 }}
]
}
],
"spacing": 69, "bounds": "flush",
"resolve": {"scale": {"x": "independent", "y": "independent", "color": "independent", "fill": "independent", "strokeDash": "independent"}, "legend": {"color": "independent", "strokeDash": "independent"}}
},
{
"hconcat": [
{
"width": 254, "height": 111.7,
"data": {"name": "c"},
"layer": [
{"mark": {"type": "area", "opacity": 0.2, "clip": true},
 "encoding": {
  "x": {"field": "x", "type": "quantitative", "scale": {"domain": [0, 2000], "nice": false}, "axis": {"values": [0,500,1000,1500,2000], "format": "d", "title": "Iterations"}},
  "y": {"field": "lo", "type": "quantitative", "scale": {"domain": [0.059, 0.847], "nice": false, "zero": false}, "axis": {"values": [0.2,0.4,0.6,0.8], "format": ".1f", "title": "Test accuracy"}},
  "y2": {"field": "hi"},
  "fill": {"field": "m", "type": "nominal", "scale": {"range": ["#1f77b4","#ff7f0e","#2ca02c","#d62728"]}, "legend": null}
 }},
{"mark": {"type": "line", "strokeWidth": 1.5, "clip": true},
 "encoding": {
  "x": {"field": "x", "type": "quantitative", "axis": {"values": [0,500,1000,1500,2000], "format": "d", "title": "Iterations"}},
  "y": {"field": "y", "type": "quantitative", "axis": {"values": [0.2,0.4,0.6,0.8], "format": ".1f", "title": "Test accuracy"}},
  "color": {"field": "m", "type": "nominal", "scale": {"domain": ["D-SGD","Local SGD","MoNNA","RB-TM"], "range": ["#1f77b4","#ff7f0e","#2ca02c","#d62728"]}, "legend": {"title": null, "orient": "none", "legendX": 126.5, "legendY": 36.7, "labelExpr": "datum.label + (datum.label == 'RB-TM' ? ' (# gradients = 2001000)' : ' (# gradients = 100000)')"}},
  "strokeDash": {"field": "m", "type": "nominal", "scale": {"domain": ["D-SGD","Local SGD","MoNNA","RB-TM"], "range": [[1,0],[4,2],[1.5,2],[6,2,1.5,2]]}, "legend": {"title": null, "orient": "none", "legendX": 126.5, "legendY": 36.7, "labelExpr": "datum.label + (datum.label == 'RB-TM' ? ' (# gradients = 2001000)' : ' (# gradients = 100000)')"}}
 }}
]
},
{
"width": 253.5, "height": 111.7,
"data": {"name": "d"},
"layer": [
{"mark": {"type": "area", "opacity": 0.2, "clip": true},
 "encoding": {
  "x": {"field": "x", "type": "quantitative", "scale": {"domain": [0, 2000], "nice": false}, "axis": {"values": [0,500,1000,1500,2000], "format": "d", "title": "Iterations"}},
  "y": {"field": "lo", "type": "quantitative", "scale": {"domain": [0.059, 0.847], "nice": false, "zero": false}, "axis": {"values": [0.2,0.4,0.6,0.8], "format": ".1f", "title": "Test accuracy"}},
  "y2": {"field": "hi"},
  "fill": {"field": "m", "type": "nominal", "scale": {"range": ["#1f77b4","#ff7f0e","#2ca02c","#d62728"]}, "legend": null}
 }},
{"mark": {"type": "line", "strokeWidth": 1.5, "clip": true},
 "encoding": {
  "x": {"field": "x", "type": "quantitative", "axis": {"values": [0,500,1000,1500,2000], "format": "d", "title": "Iterations"}},
  "y": {"field": "y", "type": "quantitative", "axis": {"values": [0.2,0.4,0.6,0.8], "format": ".1f", "title": "Test accuracy"}},
  "color": {"field": "m", "type": "nominal", "scale": {"domain": ["D-SGD","Local SGD","MoNNA","RB-TM"], "range": ["#1f77b4","#ff7f0e","#2ca02c","#d62728"]}, "legend": {"title": null, "orient": "none", "legendX": 125.7, "legendY": 36.7, "labelExpr": "datum.label + (datum.label == 'RB-TM' ? ' (# gradients = 2001000)' : ' (# gradients = 100000)')"}},
  "strokeDash": {"field": "m", "type": "nominal", "scale": {"domain": ["D-SGD","Local SGD","MoNNA","RB-TM"], "range": [[1,0],[4,2],[1.5,2],[6,2,1.5,2]]}, "legend": {"title": null, "orient": "none", "legendX": 125.7, "legendY": 36.7, "labelExpr": "datum.label + (datum.label == 'RB-TM' ? ' (# gradients = 2001000)' : ' (# gradients = 100000)')"}}
 }}
]
}
],
"spacing": 73, "bounds": "flush",
"resolve": {"scale": {"x": "independent", "y": "independent", "color": "independent", "fill": "independent", "strokeDash": "independent"}, "legend": {"color": "independent", "strokeDash": "independent"}}
}
],
"spacing": 5,
"resolve": {"scale": {"x": "independent", "y": "independent", "color": "independent", "fill": "independent", "strokeDash": "independent"}, "legend": {"color": "independent", "strokeDash": "independent"}}
}
